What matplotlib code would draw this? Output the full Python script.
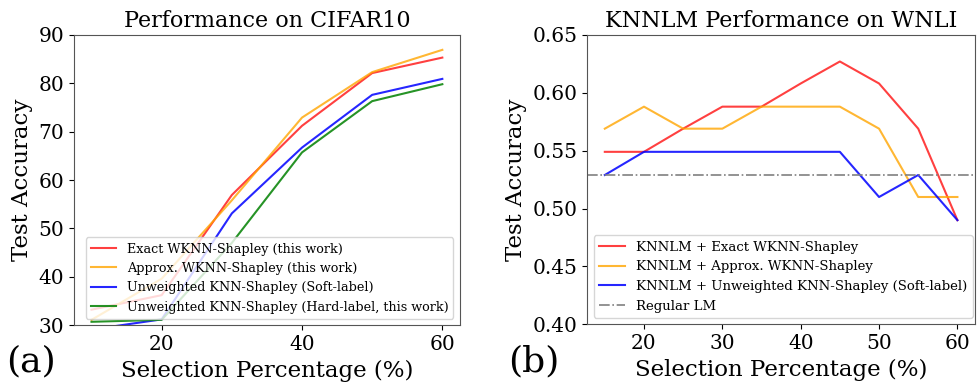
import matplotlib
matplotlib.use('Agg')
import matplotlib.pyplot as plt

plt.rcParams['font.family'] = 'DejaVu Serif'

# (a) CIFAR10
pct_a = [10, 20, 30, 40, 50, 60]
exact_a = [33.2, 36.2, 56.9, 71.2, 82.1, 85.3]
approx_a = [31.1, 39.6, 55.8, 72.9, 82.3, 86.9]
soft_a = [29.1, 31.2, 53.1, 66.7, 77.6, 80.9]
hard_a = [30.7, 31.1, 47.0, 65.7, 76.3, 79.8]

# (b) WNLI
pct_b = [15, 20, 25, 30, 35, 40, 45, 50, 55, 60]
exact_b = [0.549, 0.549, 0.569, 0.588, 0.588, 0.608, 0.627, 0.608, 0.569, 0.490]
approx_b = [0.569, 0.588, 0.569, 0.569, 0.588, 0.588, 0.588, 0.569, 0.510, 0.510]
soft_b = [0.529, 0.549, 0.549, 0.549, 0.549, 0.549, 0.549, 0.510, 0.529, 0.490]
regular_lm = 0.529

c_red = 'red'
c_orange = 'orange'
c_blue = 'blue'
c_green = 'green'

fig = plt.figure(figsize=(9.77, 3.83), dpi=100)
ax1 = fig.add_axes([0.0757, 0.151, 0.395, 0.758])
ax2 = fig.add_axes([0.601, 0.153, 0.397, 0.756])

ax1.plot(pct_a, exact_a, color=c_red, alpha=0.75, lw=1.5, label='Exact WKNN-Shapley (this work)')
ax1.plot(pct_a, approx_a, color=c_orange, alpha=0.8, lw=1.5, label='Approx. WKNN-Shapley (this work)')
ax1.plot(pct_a, soft_a, color=c_blue, alpha=0.85, lw=1.5, label='Unweighted KNN-Shapley (Soft-label)')
ax1.plot(pct_a, hard_a, color=c_green, alpha=0.85, lw=1.5, label='Unweighted KNN-Shapley (Hard-label, this work)')
ax1.set_ylim(30, 90)
ax1.set_xticks([20, 40, 60])
ax1.set_title('Performance on CIFAR10', fontsize=16)
ax1.set_ylabel('Test Accuracy', fontsize=16.5)
ax1.set_xlabel('Selection Percentage (%)', fontsize=16.5)
ax1.legend(loc='lower right', fontsize=9.2)

ax2.plot(pct_b, exact_b, color=c_red, alpha=0.75, lw=1.5, label='KNNLM + Exact WKNN-Shapley')
ax2.plot(pct_b, approx_b, color=c_orange, alpha=0.8, lw=1.5, label='KNNLM + Approx. WKNN-Shapley')
ax2.plot(pct_b, soft_b, color=c_blue, alpha=0.85, lw=1.5, label='KNNLM + Unweighted KNN-Shapley (Soft-label)')
ax2.axhline(regular_lm, color='gray', ls='-.', lw=1.2, label='Regular LM')
ax2.set_ylim(0.40, 0.65)
ax2.set_xticks([20, 30, 40, 50, 60])
ax2.set_title('KNNLM Performance on WNLI', fontsize=16)
ax2.set_ylabel('Test Accuracy', fontsize=16.5)
ax2.set_xlabel('Selection Percentage (%)', fontsize=16.5)
ax2.legend(loc='lower left', fontsize=9.5)

for ax in (ax1, ax2):
    ax.tick_params(labelsize=14.5)
    for s in ax.spines.values():
        s.set_color('#555555')

fig.text(0.006, 0.03, '(a)', fontsize=26)
fig.text(0.52, 0.03, '(b)', fontsize=26)

fig.savefig('out.png', dpi=100)
